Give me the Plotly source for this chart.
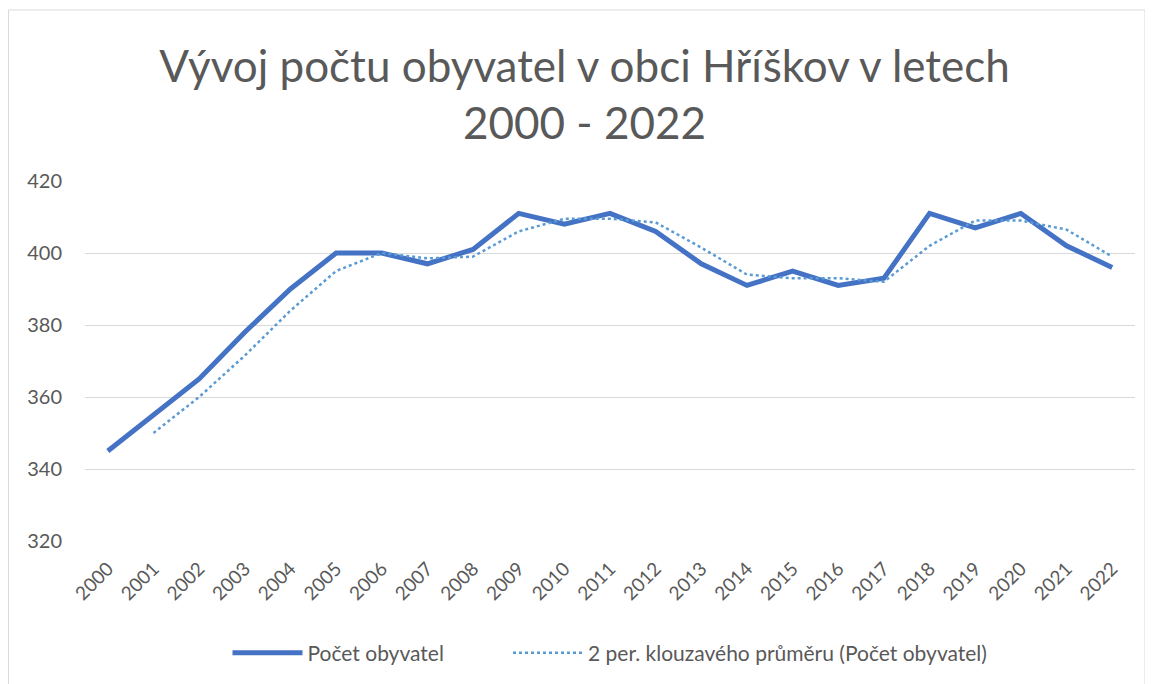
import plotly.graph_objects as go

years = [str(y) for y in range(2000, 2023)]
population = [345, 355, 365, 378, 390, 400, 400, 397, 401, 411, 408, 411,
              406, 397, 391, 395, 391, 393, 411, 407, 411, 402, 396]
moving_avg = [None, 350, 360, 371.5, 384, 395, 400, 398.5, 399, 406, 409.5, 409.5,
              408.5, 401.5, 394, 393, 393, 392, 402, 409, 409, 406.5, 399]

FONT = "Lato, Open Sans, sans-serif"
GREY = "#595959"
NB = "\u00a0"

fig = go.Figure()
fig.add_trace(go.Scatter(x=years, y=population, mode="lines",
                         name="Počet obyvatel" + NB * 11,
                         line=dict(color="#4472C4", width=5)))
fig.add_trace(go.Scatter(x=years, y=moving_avg, mode="lines",
                         name="2 per. klouzavého průměru (Počet obyvatel)",
                         line=dict(color="#5B9BD5", width=2.5, dash="dot")))

# page body adds an 8px offset; positions below are in figure pixels
OFF = 8
W, H = 1153, 684
L, T = 85 - OFF, 181 - OFF
R = W - (1135 - OFF)
B = H - (541 - OFF)
pw, ph = W - L - R, H - T - B

def px(x):
    return (x - L) / pw

def py(y):
    return (H - B - y) / ph

fig.update_layout(
    width=W, height=H,
    margin=dict(l=L, r=R, t=T, b=B, autoexpand=False),
    paper_bgcolor="white", plot_bgcolor="white",
    font=dict(family=FONT, color=GREY),
    title=dict(text="Vývoj počtu obyvatel v obci Hříškov v letech<br>2000 - 2022",
               x=0.5, xanchor="center", y=1 - (82 - OFF) / H, yanchor="middle",
               font=dict(size=44, color=GREY, family=FONT)),
    xaxis=dict(type="category", range=[-0.5, 22.5], tickangle=-45,
               tickfont=dict(size=19, color=GREY), showgrid=False,
               showline=False, ticks="", automargin=False, ticklabelstandoff=12),
    yaxis=dict(range=[320, 420], dtick=20, tickfont=dict(size=20, color=GREY),
               gridcolor="#D9D9D9", gridwidth=1.3, zeroline=False, showline=False,
               ticks="", ticklabelstandoff=22, automargin=False),
    legend=dict(orientation="h", x=0.5, xanchor="center", y=py(653 - OFF), yanchor="middle",
                font=dict(size=21, color=GREY), itemwidth=70, entrywidth=0,
                traceorder="normal"),
    shapes=[dict(type="rect", xref="paper", yref="paper",
                 x0=px(0.5), x1=px(1137), y0=py(690), y1=py(2),
                 line=dict(color="#D9D9D9", width=1), layer="below")],
)

fig.write_html("out.html")
